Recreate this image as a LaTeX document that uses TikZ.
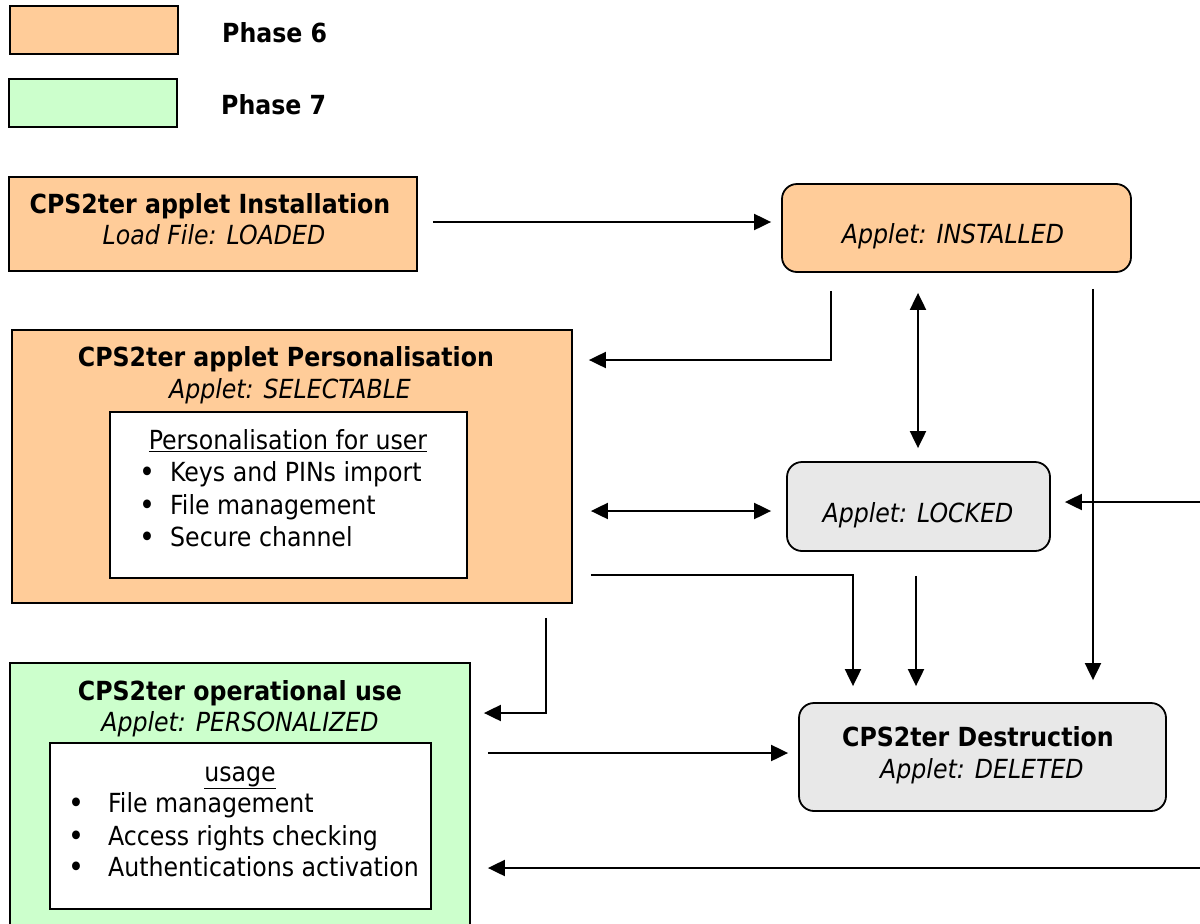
\documentclass[tikz,border=0pt]{standalone}
\usepackage{fontspec}
\setmainfont{DejaVu Sans Condensed}
\usetikzlibrary{arrows.meta,calc}
\definecolor{phsix}{HTML}{FFCC99}
\definecolor{phseven}{HTML}{CCFFCC}
\definecolor{stgray}{HTML}{E8E8E8}
\tikzset{
  box/.style={draw=black, line width=1.8pt, inner sep=0pt},
  rbox/.style={box, rounded corners=15pt},
  txt/.style={inner sep=0pt, anchor=base, font=\fontsize{26.3}{31}\selectfont},
  btxt/.style={txt, font=\fontsize{26.3}{31}\selectfont\bfseries},
  itxt/.style={txt, font=\fontsize{26.3}{31}\selectfont\itshape},
  ltxt/.style={txt, anchor=base west},
  bul/.style={txt, font=\fontsize{30}{31}\selectfont},
  arr/.style={line width=2pt, -{Triangle[length=17pt,width=16pt]}},
  darr/.style={line width=2pt, {Triangle[length=17pt,width=16pt]}-{Triangle[length=17pt,width=16pt]}},
}
\begin{document}
\begin{tikzpicture}[x=1pt,y=-1pt]
\useasboundingbox (0,0) rectangle (1200,924);
\clip (0,0) rectangle (1200,924);
% legend
\node[box, fill=phsix, minimum width=168pt, minimum height=48pt] (leg6) at (94,30) {};
\node[btxt, anchor=base west] (lab6) at (222,42) {Phase 6};
\node[box, fill=phseven, minimum width=168pt, minimum height=48pt] (leg7) at (93,103) {};
\node[btxt, anchor=base west] (lab7) at (221,114) {Phase 7};
% installation
\node[box, fill=phsix, minimum width=408pt, minimum height=94pt] (inst) at (213,224) {};
\node[btxt] (instA) at (210,213) {CPS2ter applet Installation};
\node[itxt] (instB) at (214,244) {Load File: LOADED};
% installed
\node[rbox, fill=phsix, minimum width=349pt, minimum height=88pt] (installed) at (956.5,228) {};
\node[itxt] (installedA) at (953,243) {Applet: INSTALLED};
% personalisation
\node[box, fill=phsix, minimum width=560pt, minimum height=273pt] (pers) at (292,466.5) {};
\node[btxt] (persA) at (286,366) {CPS2ter applet Personalisation};
\node[itxt] (persB) at (290,398) {Applet: SELECTABLE};
\node[box, fill=white, minimum width=357pt, minimum height=166pt] (persin) at (288.5,495) {};
\node[txt] (persC) at (288,449) {\underline{Personalisation for user}};
\node[bul] (pb1) at (147,482) {\textbullet};
\node[ltxt] (pt1) at (170,481) {Keys and PINs import};
\node[bul] (pb2) at (147,515) {\textbullet};
\node[ltxt] (pt2) at (170,514) {File management};
\node[bul] (pb3) at (147,547) {\textbullet};
\node[ltxt] (pt3) at (170,546) {Secure channel};
% locked
\node[rbox, fill=stgray, minimum width=263pt, minimum height=89pt] (locked) at (918.5,506.5) {};
\node[itxt] (lockedA) at (918,522) {Applet: LOCKED};
% destruction
\node[rbox, fill=stgray, minimum width=367pt, minimum height=108pt] (dest) at (982.5,757) {};
\node[btxt] (destA) at (978,746) {CPS2ter Destruction};
\node[itxt] (destB) at (982,778) {Applet: DELETED};
% operational use
\node[box, fill=phseven, minimum width=460pt, minimum height=290pt] (oper) at (240,808) {};
\node[btxt] (operA) at (240,700) {CPS2ter operational use};
\node[itxt] (operB) at (240,731) {Applet: PERSONALIZED};
\node[box, fill=white, minimum width=381pt, minimum height=166pt] (operin) at (240.5,826) {};
\node[txt] (operC) at (240,781) {\underline{usage}};
\node[bul] (ob1) at (76,813) {\textbullet};
\node[ltxt] (ot1) at (108,812) {File management};
\node[bul] (ob2) at (76,846) {\textbullet};
\node[ltxt] (ot2) at (108,845) {Access rights checking};
\node[bul] (ob3) at (76,877) {\textbullet};
\node[ltxt] (ot3) at (108,876) {Authentications activation};
% free ends at the right edge
\coordinate (rightA) at (1200,502);
\coordinate (rightB) at (1200,868);
% connectors
\draw[arr, shorten <=15pt, shorten >=10pt] (inst.east |- 0,222) -- (installed.west |- 0,222);
\draw[arr, shorten <=18pt, shorten >=16pt] (installed.south -| 831,0) |- (pers.east |- 0,360);
\draw[darr, shorten <=20pt, shorten >=13pt] (installed.south -| 918,0) -- (locked.north -| 918,0);
\draw[darr, shorten <=18pt, shorten >=15pt] (pers.east |- 0,511) -- (locked.west |- 0,511);
\draw[arr, shorten >=14pt] (rightA) -- (locked.east |- rightA);
\draw[arr, shorten <=16pt, shorten >=22pt] (installed.south -| 1093,0) -- (dest.north -| 1093,0);
\draw[arr, shorten <=18pt, shorten >=16pt] (pers.east |- 0,575) -| (dest.north -| 853,0);
\draw[arr, shorten <=24pt, shorten >=16pt] (locked.south -| 916,0) -- (dest.north -| 916,0);
\draw[arr, shorten <=14pt, shorten >=13pt] (pers.south -| 546,0) |- (oper.east |- 0,713);
\draw[arr, shorten <=17pt, shorten >=10pt] (oper.east |- 0,753) -- (dest.west |- 0,753);
\draw[arr, shorten >=17pt] (rightB) -- (oper.east |- rightB);
\end{tikzpicture}
\end{document}
